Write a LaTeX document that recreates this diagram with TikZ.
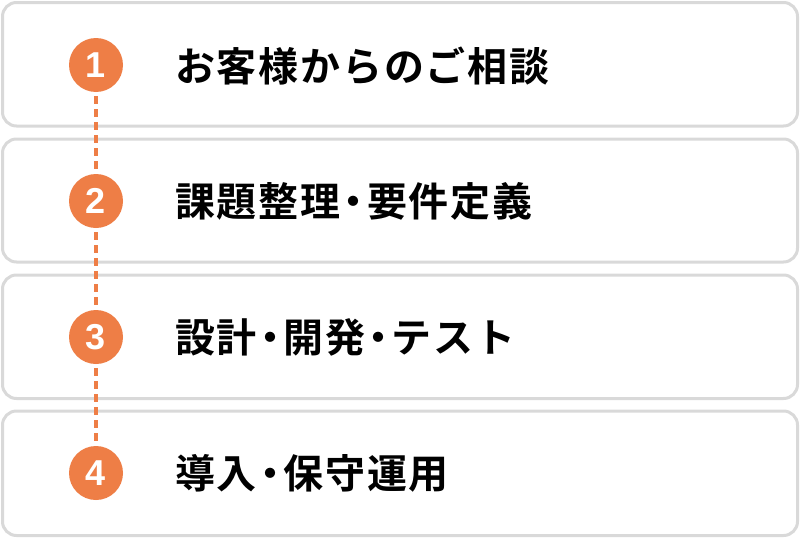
\documentclass[tikz,border=0pt]{standalone}
\usepackage{fontspec}
\newfontfamily\jpfont[LetterSpace=4.4]{Noto Sans CJK JP Bold}
\newfontfamily\numfont{Liberation Sans Bold}
\definecolor{boxgray}{HTML}{D9D9D9}
\definecolor{stepor}{HTML}{EE7E46}
\newcommand{\jdot}{\kern-6.7pt・\kern-6.7pt}
\begin{document}
\begin{tikzpicture}[x=1pt,y=-1pt,
  stepframe/.style={draw=boxgray,line width=3pt,rounded corners=14pt,fill=white},
  stepnum/.style={circle,fill=stepor,minimum size=54pt,inner sep=0pt,text=white,font=\numfont\fontsize{36pt}{36pt}\selectfont},
  steptext/.style={anchor=west,inner sep=0pt,font=\jpfont\fontsize{40pt}{40pt}\selectfont},
  stepline/.style={draw=stepor,line width=3.6pt,dash pattern=on 8pt off 5pt}]
\useasboundingbox (0,0) rectangle (800,538);
\path[stepframe] (2.5,2.5) rectangle (797.5,126);
\path[stepframe] (2.5,139) rectangle (797.5,262);
\path[stepframe] (2.5,275) rectangle (797.5,398.5);
\path[stepframe] (2.5,411) rectangle (797.5,535.5);
\node[stepnum] (n1) at (96,65) {1};
\node[stepnum] (n2) at (96,201) {2};
\node[stepnum] (n3) at (96,337) {3};
\node[stepnum] (n4) at (96,473) {4};
\draw[stepline] ([yshift=-4pt]n1.south) -- (n2.north);
\draw[stepline] ([yshift=-4pt]n2.south) -- (n3.north);
\draw[stepline] ([yshift=-4pt]n3.south) -- (n4.north);
\node[steptext] (t1) at (175,66) {お客様からのご相談};
\node[steptext] (t2) at (175,201) {課題整理\jdot 要件定義};
\node[steptext] (t3) at (175,337) {設計\jdot 開発\jdot テスト};
\node[steptext] (t4) at (175,473) {導入\jdot 保守運用};
\end{tikzpicture}
\end{document}
